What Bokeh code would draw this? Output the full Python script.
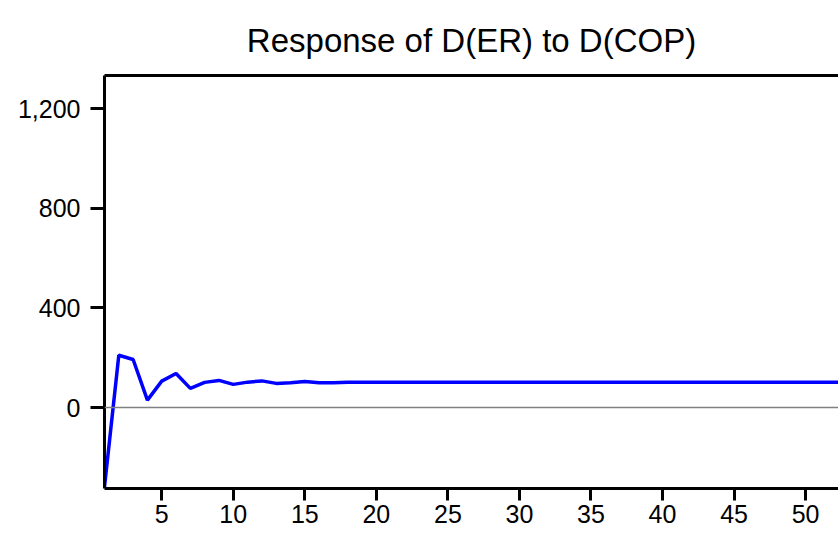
from bokeh.plotting import figure
from bokeh.models import LinearAxis, FixedTicker, NumeralTickFormatter, Span, Range1d, ColumnDataSource
from bokeh.embed import file_html
from bokeh.resources import INLINE

# ---- data ----
periods = list(range(1, 54))
response = [-318, 210, 193, 30, 106, 137, 77, 101, 109, 93,
            102, 107, 97, 100, 105, 100, 100, 102, 102, 102,
            102, 102, 102, 102, 102, 102, 102, 102, 102, 102,
            102, 102, 102, 102, 102, 102, 102, 102, 102, 102,
            102, 102, 102, 102, 102, 102, 102, 102, 102, 102,
            102, 102, 102]
x_ticks = [5, 10, 15, 20, 25, 30, 35, 40, 45, 50]
y_ticks = [0, 400, 800, 1200]
title_text = "Response of D(ER) to D(COP)"

FONT = "Liberation Sans"

p = figure(width=838, height=534, output_backend="svg", toolbar_location=None,
           x_range=Range1d(1, 52.3), y_range=Range1d(-325, 1333),
           x_axis_location=None, y_axis_location=None,
           min_border_left=104, min_border_right=0, min_border_top=75, min_border_bottom=46,
           title=title_text)
p.outline_line_color = None
p.grid.visible = False
p.background_fill_color = "white"
p.border_fill_color = "white"

p.title.align = "center"
p.title.text_font = FONT
p.title.text_font_size = "33px"
p.title.text_font_style = "normal"
p.title.text_color = "black"
p.title.offset = 6
p.title.standoff = 34

def style_axis(ax):
    ax.axis_line_width = 3
    ax.axis_line_color = "black"
    ax.major_tick_line_width = 3
    ax.major_tick_line_color = "black"
    ax.major_tick_in = 0
    ax.minor_tick_line_color = None
    ax.major_label_text_font = FONT
    ax.major_label_text_color = "black"
    ax.major_label_text_font_size = "25px"

yax = LinearAxis(ticker=FixedTicker(ticks=y_ticks), formatter=NumeralTickFormatter(format="0,0"))
style_axis(yax)
yax.major_tick_out = 14
yax.major_label_standoff = 10
p.add_layout(yax, "left")

xax = LinearAxis(ticker=FixedTicker(ticks=x_ticks))
style_axis(xax)
xax.major_tick_out = 12
xax.major_label_standoff = 4
p.add_layout(xax, "below")

top = LinearAxis(ticker=FixedTicker(ticks=[]))
top.axis_line_width = 3
top.axis_line_color = "black"
top.major_tick_line_color = None
top.major_tick_out = 0
top.major_tick_in = 0
top.minor_tick_line_color = None
top.minor_tick_out = 0
top.major_label_standoff = 0
top.major_label_text_font_size = "0px"
p.add_layout(top, "above")

p.add_layout(Span(location=0, dimension="width", line_color="#808080", line_width=1.5))

src = ColumnDataSource(data=dict(x=periods, y=response))
p.line("x", "y", source=src, line_color="#0000FF", line_width=3.5)

open("out.html", "w").write(file_html(p, INLINE))
